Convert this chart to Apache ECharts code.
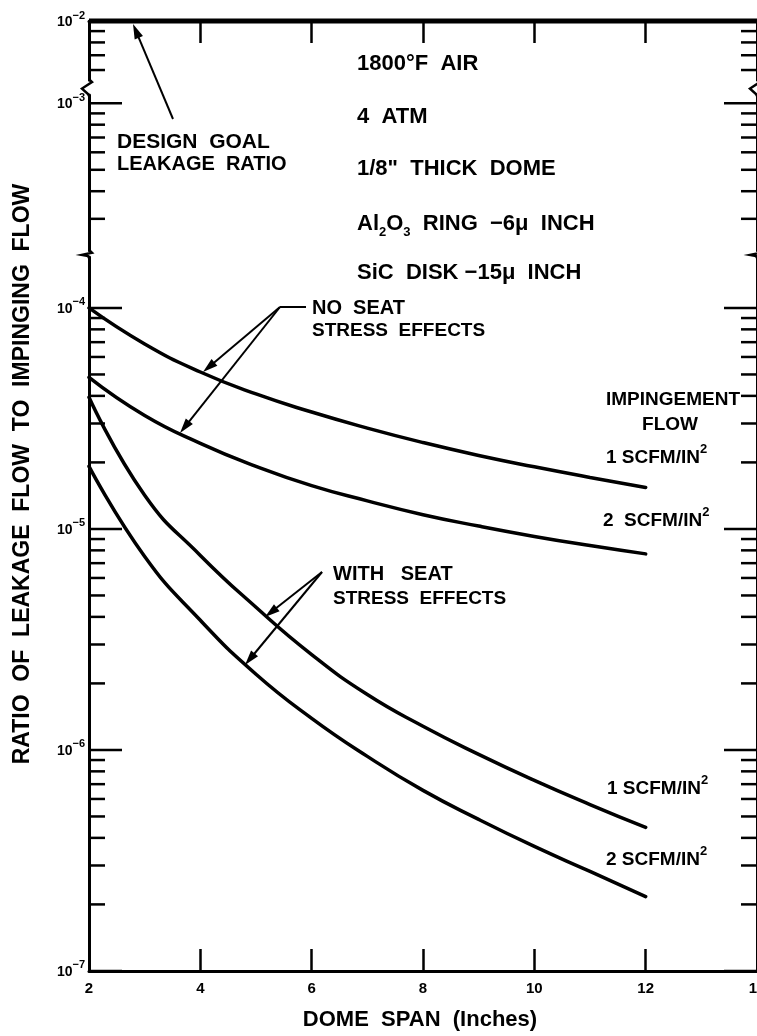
<!DOCTYPE html>
<html><head><meta charset="utf-8">
<script src="https://cdn.jsdelivr.net/npm/echarts@6/dist/echarts.min.js"></script>
<style>html,body{margin:0;padding:0;background:#fff}#c{width:757px;height:1036px}</style>
</head><body><div id="c"></div>
<script>
// ---------------- data ----------------
const DOME_SPAN = [2, 3, 4, 5, 6, 7, 8, 9, 10, 11, 12];
const NO_STRESS_1SCFM   = [1.0e-4, 6.87e-5, 5.13e-5, 4.08e-5, 3.38e-5, 2.86e-5, 2.46e-5, 2.15e-5, 1.91e-5, 1.71e-5, 1.54e-5];
const NO_STRESS_2SCFM   = [4.85e-5, 3.26e-5, 2.44e-5, 1.92e-5, 1.57e-5, 1.34e-5, 1.16e-5, 1.03e-5, 9.25e-6, 8.41e-6, 7.71e-6];
const WITH_STRESS_1SCFM = [3.94e-5, 1.42e-5, 7.59e-6, 4.42e-6, 2.70e-6, 1.78e-6, 1.28e-6, 9.55e-7, 7.28e-7, 5.66e-7, 4.46e-7];
const WITH_STRESS_2SCFM = [1.92e-5, 7.51e-6, 3.86e-6, 2.20e-6, 1.39e-6, 9.35e-7, 6.56e-7, 4.85e-7, 3.66e-7, 2.82e-7, 2.17e-7];
const DESIGN_GOAL = 1e-2;
const X_RANGE = [2, 14];
const X_TICK_STEP = 2;
// broken logarithmic y axis: [min, max] of each segment, top to bottom
const Y_SEGMENTS = [[5.4e-3, 1e-2], [2.15e-4, 1.09e-3], [1e-7, 1.7e-4]];
const Y_DECADES = [-7, -6, -5, -4, -3, -2];
const Y_MINOR_MULT = [2, 3, 4, 5, 6, 7, 8, 9];

// ---------------- layout ----------------
const LEFT = 89, PLOT_W = 668, DEC = 221;
const SEG_TOPS = [21, 95, 257];
const FONT = '"Liberation Sans", Arial, sans-serif';
const segH = Y_SEGMENTS.map(s => DEC * Math.log10(s[1] / s[0]));

const chart = echarts.init(document.getElementById('c'), null, {renderer: 'canvas'});

const grids = [], xAxes = [], yAxes = [], series = [];
Y_SEGMENTS.forEach((seg, i) => {
  grids.push({left: LEFT, top: SEG_TOPS[i], width: PLOT_W, height: segH[i], containLabel: false, outerBoundsMode: 'none'});
  xAxes.push({
    type: 'value', gridIndex: i, min: X_RANGE[0], max: X_RANGE[1], interval: X_TICK_STEP,
    position: i === 0 ? 'top' : 'bottom',
    show: i !== 1,
    axisLine: {show: true, lineStyle: {color: '#000', width: 3}},
    axisTick: {show: true, inside: true, length: 22, lineStyle: {color: '#000', width: 2.5}},
    axisLabel: {show: i === 2, color: '#000', fontFamily: FONT, fontWeight: 'bold', fontSize: 15, margin: 10,
                showMinLabel: true, showMaxLabel: true, hideOverlap: false},
    splitLine: {show: false}
  });
  ['left', 'right'].forEach(pos => {
    yAxes.push({
      type: 'log', logBase: 10, gridIndex: i, min: seg[0], max: seg[1], position: pos,
      axisLine: {show: true, onZero: false, lineStyle: {color: '#000', width: 3}},
      axisTick: {show: false}, axisLabel: {show: false}, splitLine: {show: false}
    });
  });
  // ticks (major + minor) for this segment
  const ticks = [];
  Y_DECADES.forEach(e => {
    const base = Math.pow(10, e);
    if (base >= seg[0] * 0.999 && base <= seg[1] * 1.001) ticks.push([X_RANGE[0], base, 1]);
    Y_MINOR_MULT.forEach(m => {
      const v = m * base;
      if (e < -2 && v > seg[0] && v < seg[1]) ticks.push([X_RANGE[0], v, 0]);
    });
  });
  series.push({
    type: 'custom', xAxisIndex: i, yAxisIndex: i * 2, clip: false, silent: true, z: 1,
    data: ticks,
    renderItem(params, api) {
      const v = api.value(1), major = api.value(2);
      const pL = api.coord([X_RANGE[0], v]), pR = api.coord([X_RANGE[1], v]);
      const len = major ? 33 : 16;
      const ch = [
        {type: 'line', shape: {x1: pL[0], y1: pL[1], x2: pL[0] + len, y2: pL[1]}, style: {stroke: '#000', lineWidth: 2.5}},
        {type: 'line', shape: {x1: pR[0], y1: pR[1], x2: pR[0] - len, y2: pR[1]}, style: {stroke: '#000', lineWidth: 2.5}}
      ];
      if (major) {
        const ex = Math.round(Math.log10(v));
        ch.push({type: 'text', x: pL[0] - 4, y: pL[1] + 1, style: {
          text: '{b|10}{s|\u2212' + (-ex) + '}', align: 'right', verticalAlign: 'middle',
          rich: {
            b: {fontFamily: FONT, fontWeight: 'bold', fontSize: 14, lineHeight: 24, fill: '#000'},
            s: {fontFamily: FONT, fontWeight: 'bold', fontSize: 11, lineHeight: 12, verticalAlign: 'top', fill: '#000'}
          }
        }});
      }
      return {type: 'group', children: ch};
    }
  });
});

const curveStyle = {color: '#000', width: 3.5, cap: 'round', join: 'round'};
function curve(name, vals) {
  return {type: 'line', name, xAxisIndex: 2, yAxisIndex: 4, smooth: 0.5,
          showSymbol: false, symbol: 'none',
          lineStyle: curveStyle, z: 3, data: DOME_SPAN.map((x, k) => [x, vals[k]])};
}
series.push(curve('No seat stress, 1 SCFM/in²', NO_STRESS_1SCFM));
series.push(curve('No seat stress, 2 SCFM/in²', NO_STRESS_2SCFM));
series.push(curve('With seat stress, 1 SCFM/in²', WITH_STRESS_1SCFM));
series.push(curve('With seat stress, 2 SCFM/in²', WITH_STRESS_2SCFM));
series.push({type: 'line', name: 'Design goal leakage ratio', xAxisIndex: 0, yAxisIndex: 0, clip: false,
  showSymbol: false, symbol: 'none', lineStyle: {color: '#000', width: 5}, z: 4,
  data: [[X_RANGE[0], DESIGN_GOAL], [X_RANGE[1], DESIGN_GOAL]]});

// ---------------- annotations ----------------
function arrow(x1, y1, x2, y2, hl = 15, hw = 4.5) {
  const dx = x2 - x1, dy = y2 - y1, L = Math.hypot(dx, dy), ux = dx / L, uy = dy / L;
  const bx = x2 - ux * hl, by = y2 - uy * hl;
  return [
    {type: 'line', z: 10, shape: {x1, y1, x2: bx + ux * 3, y2: by + uy * 3}, style: {stroke: '#000', lineWidth: 2}},
    {type: 'polygon', z: 10, shape: {points: [[x2, y2], [bx - uy * hw, by + ux * hw], [bx + uy * hw, by - ux * hw]]}, style: {fill: '#000'}}
  ];
}
function txt(x, y, text, size, extra) {
  return Object.assign({type: 'text', x, y, z: 10, style: Object.assign({
    text, fill: '#000', fontFamily: FONT, fontWeight: 'bold', fontSize: size, align: 'left', verticalAlign: 'middle'
  }, extra || {})});
}
const supRich = size => ({
  m: {fontFamily: FONT, fontWeight: 'bold', fontSize: size, lineHeight: 30, fill: '#000'},
  sup: {fontFamily: FONT, fontWeight: 'bold', fontSize: 13, lineHeight: 14, verticalAlign: 'top', fill: '#000'},
  sub: {fontFamily: FONT, fontWeight: 'bold', fontSize: 13, lineHeight: 14, verticalAlign: 'bottom', fill: '#000'}
});

// break symbols on both vertical axes
const breaks = [];
function zig(x, yA, yB) {
  const mid = (yA + yB) / 2;
  return {type: 'polyline', z: 10, shape: {points: [[x, yA - 1], [x + 3, yA + 2], [x - 7, mid + 1], [x - 1, yB - 1], [x, yB + 1]]},
          style: {stroke: '#000', lineWidth: 2.5, fill: null}};
}
for (let i = 0; i < 2; i++) {
  const yA = SEG_TOPS[i] + segH[i], yB = SEG_TOPS[i + 1];
  breaks.push(zig(LEFT, yA, yB), zig(LEFT + PLOT_W, yA, yB));
}

const graphics = [
  ...breaks,
  txt(117, 142, 'DESIGN  GOAL', 21),
  txt(117, 164, 'LEAKAGE  RATIO', 20),
  ...arrow(173, 119, 133, 24),
  txt(357, 64, '1800°F  AIR', 22),
  txt(357, 117, '4  ATM', 22),
  txt(357, 169, '1/8"  THICK  DOME', 22),
  txt(357, 224, '{m|Al}{sub|2}{m|O}{sub|3}{m|  RING  \u22126\u03bc  INCH}', 22, {rich: supRich(22)}),
  txt(357, 273, 'SiC  DISK \u221215\u03bc  INCH', 22),
  txt(312, 308, 'NO  SEAT', 20),
  txt(312, 331, 'STRESS  EFFECTS', 19),
  {type: 'line', z: 10, shape: {x1: 280, y1: 307, x2: 306, y2: 307}, style: {stroke: '#000', lineWidth: 2}},
  ...arrow(280, 307, 203, 372),
  ...arrow(280, 307, 180, 433),
  txt(333, 574, 'WITH   SEAT', 20),
  txt(333, 599, 'STRESS  EFFECTS', 19),
  ...arrow(322, 572, 265, 617),
  ...arrow(322, 572, 245, 665),
  txt(740, 400, 'IMPINGEMENT', 19, {align: 'right'}),
  txt(670, 425, 'FLOW', 19, {align: 'center'}),
  txt(606, 458, '{m|1 SCFM/IN}{sup|2}', 19, {rich: supRich(19)}),
  txt(603, 521, '{m|2  SCFM/IN}{sup|2}', 19, {rich: supRich(19)}),
  txt(607, 789, '{m|1 SCFM/IN}{sup|2}', 19, {rich: supRich(19)}),
  txt(606, 860, '{m|2 SCFM/IN}{sup|2}', 19, {rich: supRich(19)}),
  txt(420, 1020, 'DOME  SPAN  (Inches)', 22, {align: 'center'}),
  txt(23, 474, 'RATIO  OF  LEAKAGE  FLOW  TO  IMPINGING  FLOW', 23, {align: 'center'})
];
graphics[graphics.length - 1].rotation = Math.PI / 2;

chart.setOption({
  animation: false,
  backgroundColor: '#fff',
  grid: grids, xAxis: xAxes, yAxis: yAxes, series,
  graphic: {elements: graphics}
});
</script></body></html>
